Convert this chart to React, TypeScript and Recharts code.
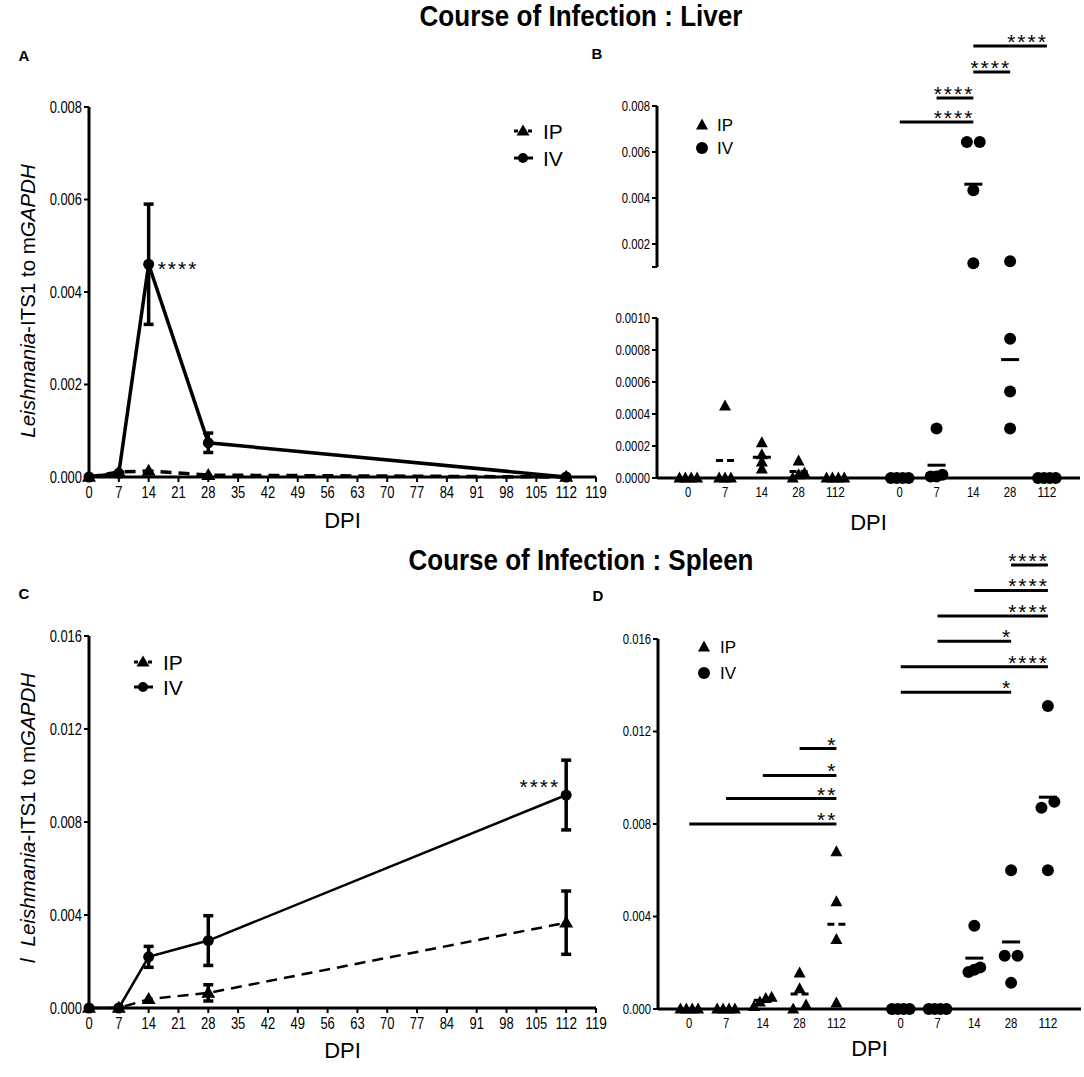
import React from "react";
import {
  ComposedChart,
  Line,
  ErrorBar,
  XAxis,
  YAxis,
  ReferenceDot,
  ReferenceLine,
  ScatterChart,
  Scatter,
} from "recharts";

const SANS = '"Liberation Sans", Arial, Helvetica, sans-serif';

const dpi = [0, 7, 14, 28, 112];
const dpiTicks = [0, 7, 14, 21, 28, 35, 42, 49, 56, 63, 70, 77, 84, 91, 98, 105, 112, 119];

// liver, mean +/- SEM (A)
const liverIP = [0, 0.00011, 0.00013, 0.00004, 0];
const liverIV = [0, 0.00008, 0.0046, 0.00074, 0];
const liverIVErr = [0, 0, 0.0013, 0.00021, 0];

// spleen, mean +/- SEM (C)
const spleenIP = [0, 0, 0.00038, 0.00065, 0.00367];
const spleenIPErr = [0, 0, 0, 0.00035, 0.00136];
const spleenIV = [0, 0, 0.0022, 0.0029, 0.00916];
const spleenIVErr = [0, 0, 0.00045, 0.00107, 0.0015];

// single mice per DPI group (B, D)
const liverPtsIP = [
  [0, 0, 0, 0],
  [0.00045, 0, 0, 0],
  [0.00022, 0.000144, 0.0001, 0.000056],
  [0.000106, 0.00003, 0.00002, 0],
  [0, 0, 0, 0],
];
const liverPtsIV = [
  [0, 0, 0, 0],
  [0.00031, 0.00002, 0.00001, 0.00001],
  [0.00643, 0.00643, 0.00434, 0.00116],
  [0.00125, 0.00087, 0.00054, 0.00031],
  [0, 0, 0, 0],
];
const spleenPtsIP = [
  [0, 0, 0, 0],
  [0, 0, 0, 0],
  [0.0005, 0.00045, 0.0003, 0.0001],
  [0.00155, 0.00087, 0.00017, 0],
  [0.0068, 0.00463, 0.003, 0.00026],
];
const spleenPtsIV = [
  [0, 0, 0, 0],
  [0, 0, 0, 0],
  [0.0036, 0.0018, 0.0017, 0.0016],
  [0.006, 0.0023, 0.0023, 0.00113],
  [0.0131, 0.00896, 0.0087, 0.006],
];

// significance brackets (group index from -> to)
const liverSigFrom = [0, 1, 2, 2];
const liverSigTo = [2, 2, 3, 4];
const liverSigY = [0.0073, 0.00835, 0.00948, 0.01061];
const liverSigText = ["****", "****", "****", "****"];

const spleenIPSigFrom = [0, 1, 2, 3];
const spleenIPSigTo = [4, 4, 4, 4];
const spleenIPSigY = [0.008, 0.0091, 0.0101, 0.01126];
const spleenIPSigText = ["**", "**", "*", "*"];

const spleenIVSigFrom = [0, 0, 1, 1, 2, 3];
const spleenIVSigTo = [3, 4, 3, 4, 4, 4];
const spleenIVSigY = [0.0137, 0.0148, 0.0159, 0.017, 0.0181, 0.0192];
const spleenIVSigText = ["*", "****", "*", "****", "****", "****"];

const ipPos = dpi.map((_, i) => 0.85 + i);
const ivPos = dpi.map((_, i) => 6.6 + i);
const groupTicks = [...ipPos, ...ivPos];
const groupLabels = [...dpi, ...dpi];

const triPoints = (cx: number, cy: number, w: number, h: number) =>
  `${cx},${cy - h * 0.6} ${cx - w / 2},${cy + h * 0.4} ${cx + w / 2},${cy + h * 0.4}`;

// no narrow font installed: squeeze Liberation Sans to narrow widths
const narrowW = (s: string, fs: number) =>
  s.split("").reduce((a, ch) => a + (ch === "." ? 0.22 : 0.45) * fs, 0);

function narrowTick(fs: number, fmt: (v: number) => string) {
  return (p: any) => {
    const s = fmt(p.payload.value);
    if (!s) return <g />;
    return (
      <text
        x={p.x}
        y={p.y}
        dy={p.verticalAnchor === "start" ? "0.71em" : "0.355em"}
        textAnchor={p.textAnchor}
        fontSize={fs}
        fontFamily={SANS}
        fill="#000"
        textLength={narrowW(s, fs)}
        lengthAdjust="spacingAndGlyphs"
      >
        {s}
      </text>
    );
  };
}

// spread overlapping values sideways like a column scatter
function spread(values: number[], tol: number, pos: number) {
  const idx = values.map((_, i) => i).sort((a, b) => values[a] - values[b]);
  const clusters: number[][] = [];
  idx.forEach((i) => {
    const last = clusters[clusters.length - 1];
    if (last && Math.abs(values[i] - values[last[last.length - 1]]) < tol) last.push(i);
    else clusters.push([i]);
  });
  const out: { x: number; y: number }[] = [];
  clusters.forEach((c) => {
    const gap = c.length >= 3 ? 0.16 : 0.35;
    c.forEach((i, j) => out.push({ x: pos + (j - (c.length - 1) / 2) * gap, y: values[i] }));
  });
  return out;
}

const axisStyle = { stroke: "#000", strokeWidth: 3 };
const tickStyle = { stroke: "#000", strokeWidth: 2 };

function yTitle(prefix: boolean, shift: number) {
  return (props: any) => {
    const vb = props.viewBox;
    const cx = vb.x + 27;
    const cy = vb.y + vb.height / 2 + shift;
    return (
      <text
        transform={`translate(${cx},${cy}) rotate(-90)`}
        textAnchor="middle"
        dominantBaseline="central"
        fontSize={20.5}
        fontFamily={SANS}
        fill="#000"
      >
        {prefix && <tspan fontStyle="italic">l</tspan>}
        <tspan fontStyle="italic" dx={prefix ? 12 : 0}>Leishmania</tspan>
        <tspan>-ITS1 to m</tspan>
        <tspan fontStyle="italic">GAPDH</tspan>
      </text>
    );
  };
}

function xTitle(dy: number) {
  return (props: any) => {
    const vb = props.viewBox;
    return (
      <text
        x={vb.x + vb.width / 2}
        y={vb.y + dy}
        textAnchor="middle"
        dominantBaseline="central"
        fontSize={22}
        fontFamily={SANS}
        fill="#000"
      >
        DPI
      </text>
    );
  };
}

function stars(text: string, dx: number, dy: number, anchor: string) {
  return (props: any) => {
    const vb = props.viewBox;
    return (
      <text
        x={vb.x + (anchor === "end" ? vb.width : 0) + dx}
        y={vb.y + dy}
        textAnchor={anchor}
        fontSize={21}
        letterSpacing={2}
        fontFamily={SANS}
        fill="#000"
      >
        {text}
      </text>
    );
  };
}

function CoursePanel(props: any) {
  const { top, height, marginTop, xH, ip, iv, ipErr, ivErr, yMax, yTicks, lineW, prefix, yShift, xDy, star } = props;
  const rows = dpi.map((d, i) => ({ dpi: d, ip: ip[i], iv: iv[i], ipErr: ipErr[i], ivErr: ivErr[i] }));
  return (
    <div style={{ position: "absolute", left: 0, top }}>
      <ComposedChart width={610} height={height} data={rows} margin={{ top: marginTop, right: 14, bottom: 0, left: 0 }}>
        <XAxis
          type="number"
          dataKey="dpi"
          domain={[0, 119]}
          ticks={dpiTicks}
          interval={0}
          height={xH}
          axisLine={axisStyle}
          tickLine={tickStyle}
          tickSize={5}
          tickMargin={5}
          tick={narrowTick(16, (v) => String(v))}
          label={xTitle(xDy)}
        />
        <YAxis
          type="number"
          domain={[0, yMax]}
          ticks={yTicks}
          interval={0}
          width={89}
          axisLine={axisStyle}
          tickLine={tickStyle}
          tickSize={5}
          tickMargin={2}
          tick={narrowTick(16, (v) => v.toFixed(3))}
          label={yTitle(prefix, yShift)}
        />
        <Line
          dataKey="iv"
          stroke="#000"
          strokeWidth={lineW}
          isAnimationActive={false}
          dot={(p: any) => <circle key={`c${p.index}`} cx={p.cx} cy={p.cy} r={5.5} fill="#000" />}
        >
          <ErrorBar dataKey="ivErr" width={5} strokeWidth={3.5} stroke="#000" direction="y" />
        </Line>
        <Line
          dataKey="ip"
          stroke="#000"
          strokeWidth={lineW}
          strokeDasharray="11 7"
          isAnimationActive={false}
          dot={(p: any) => <polygon key={`t${p.index}`} points={triPoints(p.cx, p.cy, 14, 12)} fill="#000" />}
        >
          <ErrorBar dataKey="ipErr" width={5} strokeWidth={3.5} stroke="#000" direction="y" />
        </Line>
        <ReferenceDot
          x={star.x}
          y={star.y}
          r={0}
          fill="none"
          stroke="none"
          ifOverflow="visible"
          label={stars("****", star.dx, star.dy, star.anchor)}
        />
      </ComposedChart>
    </div>
  );
}

function DotPanel(props: any) {
  const { left, top, width, height, marginTop, marginBottom, xH, showX, yDomain, yTicks, yFmt, keep, tol, ptsIP, ptsIV, meanIP, meanIV, sig, xDy } = props;
  const ipData = ptsIP.flatMap((g: number[], i: number) => spread(g.filter(keep), tol, ipPos[i]));
  const ivData = ptsIV.flatMap((g: number[], i: number) => spread(g.filter(keep), tol, ivPos[i]));
  const meanLines: any[] = [];
  meanIP.forEach((m: number, i: number) => {
    if (m > 0 && keep(m))
      meanLines.push(
        <ReferenceLine
          key={`mip${i}`}
          segment={[{ x: ipPos[i] - 0.245, y: m }, { x: ipPos[i] + 0.245, y: m }]}
          stroke="#000"
          strokeWidth={3}
          strokeDasharray="7 4"
          ifOverflow="visible"
        />
      );
  });
  meanIV.forEach((m: number, i: number) => {
    if (m > 0 && keep(m))
      meanLines.push(
        <ReferenceLine
          key={`miv${i}`}
          segment={[{ x: ivPos[i] - 0.245, y: m }, { x: ivPos[i] + 0.245, y: m }]}
          stroke="#000"
          strokeWidth={3}
          ifOverflow="visible"
        />
      );
  });
  const sigLines = sig.map((s: any, i: number) => (
    <ReferenceLine
      key={`sig${i}`}
      segment={[{ x: s.pos[s.from], y: s.y }, { x: s.pos[s.to], y: s.y }]}
      stroke="#000"
      strokeWidth={3}
      ifOverflow="visible"
      label={stars(s.text, 1, 3, "end")}
    />
  ));
  return (
    <div style={{ position: "absolute", left, top }}>
      <ScatterChart width={width} height={height} margin={{ top: marginTop, right: 0, bottom: marginBottom, left: 0 }}>
        <XAxis
          type="number"
          dataKey="x"
          domain={[0, 11.5]}
          ticks={groupTicks}
          interval={0}
          hide={!showX}
          height={xH}
          axisLine={axisStyle}
          tickLine={false}
          tickSize={0}
          tickMargin={9}
          tick={narrowTick(14, (v) => String(groupLabels[groupTicks.findIndex((t) => Math.abs(t - v) < 1e-6)]))}
          label={showX ? xTitle(xDy) : undefined}
        />
        <YAxis
          type="number"
          dataKey="y"
          domain={yDomain}
          ticks={yTicks}
          interval={0}
          width={width - 423}
          axisLine={axisStyle}
          tickLine={tickStyle}
          tickSize={5}
          tickMargin={2}
          tick={narrowTick(14, yFmt)}
        />
        {meanLines}
        {sigLines}
        <Scatter
          data={ivData}
          isAnimationActive={false}
          shape={(p: any) => <circle cx={p.cx} cy={p.cy} r={6} fill="#000" />}
        />
        <Scatter
          data={ipData}
          isAnimationActive={false}
          shape={(p: any) => <polygon points={triPoints(p.cx, p.cy, 12, 11)} fill="#000" />}
        />
      </ScatterChart>
    </div>
  );
}

function LineLegend({ x, y1, y2, tx }: any) {
  return (
    <g>
      <line x1={x - 9} x2={x + 10} y1={y1} y2={y1} stroke="#000" strokeWidth={3} strokeDasharray="4 3" />
      <polygon points={triPoints(x, y1, 13, 11)} fill="#000" />
      <line x1={x - 9} x2={x + 10} y1={y2} y2={y2} stroke="#000" strokeWidth={3} />
      <circle cx={x} cy={y2} r={5} fill="#000" />
      <text x={tx} y={y1} dominantBaseline="central" fontSize={21} fontFamily={SANS}>IP</text>
      <text x={tx} y={y2} dominantBaseline="central" fontSize={21} fontFamily={SANS}>IV</text>
    </g>
  );
}

function DotLegend({ x, y1, y2, tx }: any) {
  return (
    <g>
      <polygon points={triPoints(x, y1, 12, 11)} fill="#000" />
      <circle cx={x} cy={y2} r={6} fill="#000" />
      <text x={tx} y={y1} dominantBaseline="central" fontSize={17} fontFamily={SANS}>IP</text>
      <text x={tx} y={y2} dominantBaseline="central" fontSize={17} fontFamily={SANS}>IV</text>
    </g>
  );
}

const buildSig = (from: number[], to: number[], ys: number[], texts: string[], pos: number[]) =>
  from.map((f, i) => ({ from: f, to: to[i], y: ys[i], text: texts[i], pos }));

export default function App() {
  const liverSig = buildSig(liverSigFrom, liverSigTo, liverSigY, liverSigText, ivPos);
  const spleenSig = [
    ...buildSig(spleenIPSigFrom, spleenIPSigTo, spleenIPSigY, spleenIPSigText, ipPos),
    ...buildSig(spleenIVSigFrom, spleenIVSigTo, spleenIVSigY, spleenIVSigText, ivPos),
  ];
  return (
    <div style={{ position: "absolute", left: 0, top: 0, width: 1084, height: 1077, background: "#fff", overflow: "hidden" }}>
      <CoursePanel
        top={30}
        height={510}
        marginTop={77}
        xH={63}
        ip={liverIP}
        iv={liverIV}
        ipErr={[0, 0, 0, 0, 0]}
        ivErr={liverIVErr}
        yMax={0.008}
        yTicks={[0, 0.002, 0.004, 0.006, 0.008]}
        lineW={3.5}
        prefix={false}
        yShift={9}
        xDy={43}
        star={{ x: 14, y: 0.0046, dx: 9, dy: 12, anchor: "start" }}
      />
      <CoursePanel
        top={560}
        height={520}
        marginTop={76}
        xH={72}
        ip={spleenIP}
        iv={spleenIV}
        ipErr={spleenIPErr}
        ivErr={spleenIVErr}
        yMax={0.016}
        yTicks={[0, 0.004, 0.008, 0.012, 0.016]}
        lineW={2.5}
        prefix={true}
        yShift={-4}
        xDy={42}
        star={{ x: 112, y: 0.00916, dx: -6, dy: -1, anchor: "end" }}
      />
      <DotPanel
        left={560}
        top={0}
        width={520}
        height={290}
        marginTop={106}
        marginBottom={23}
        xH={0}
        showX={false}
        yDomain={[0.001, 0.008]}
        yTicks={[0.001, 0.002, 0.004, 0.006, 0.008]}
        yFmt={(v: number) => (v === 0.001 ? "" : v.toFixed(3))}
        keep={(v: number) => v >= 0.001}
        tol={0.00025}
        ptsIP={liverPtsIP}
        ptsIV={liverPtsIV}
        meanIP={liverIP}
        meanIV={liverIV}
        sig={liverSig}
        xDy={0}
      />
      <DotPanel
        left={560}
        top={290}
        width={520}
        height={250}
        marginTop={28}
        marginBottom={0}
        xH={62}
        showX={true}
        yDomain={[0, 0.001]}
        yTicks={[0, 0.0002, 0.0004, 0.0006, 0.0008, 0.001]}
        yFmt={(v: number) => v.toFixed(4)}
        keep={(v: number) => v < 0.001}
        tol={0.000035}
        ptsIP={liverPtsIP}
        ptsIV={liverPtsIV}
        meanIP={liverIP}
        meanIV={liverIV}
        sig={[]}
        xDy={44}
      />
      <DotPanel
        left={560}
        top={540}
        width={521}
        height={540}
        marginTop={99}
        marginBottom={0}
        xH={71}
        showX={true}
        yDomain={[0, 0.016]}
        yTicks={[0, 0.004, 0.008, 0.012, 0.016]}
        yFmt={(v: number) => v.toFixed(3)}
        keep={() => true}
        tol={0.00056}
        ptsIP={spleenPtsIP}
        ptsIV={spleenPtsIV}
        meanIP={spleenIP}
        meanIV={spleenIV}
        sig={spleenSig}
        xDy={39}
      />
      <svg width={1084} height={1077} style={{ position: "absolute", left: 0, top: 0, pointerEvents: "none" }}>
        <text x={581} y={16} textAnchor="middle" dominantBaseline="central" fontSize={29} fontWeight="bold" fontFamily={SANS} textLength={323} lengthAdjust="spacingAndGlyphs">
          Course of Infection : Liver
        </text>
        <text x={581} y={560} textAnchor="middle" dominantBaseline="central" fontSize={29} fontWeight="bold" fontFamily={SANS} textLength={345} lengthAdjust="spacingAndGlyphs">
          Course of Infection : Spleen
        </text>
        <text x={24} y={55} textAnchor="middle" dominantBaseline="central" fontSize={15} fontWeight="bold" fontFamily={SANS}>A</text>
        <text x={597} y={53} textAnchor="middle" dominantBaseline="central" fontSize={15} fontWeight="bold" fontFamily={SANS}>B</text>
        <text x={24} y={593} textAnchor="middle" dominantBaseline="central" fontSize={15} fontWeight="bold" fontFamily={SANS}>C</text>
        <text x={598} y={595} textAnchor="middle" dominantBaseline="central" fontSize={15} fontWeight="bold" fontFamily={SANS}>D</text>
        <LineLegend x={523} y1={131} y2={158} tx={543} />
        <LineLegend x={143} y1={662} y2={687} tx={163} />
        <DotLegend x={702} y1={125} y2={148} tx={717} />
        <DotLegend x={704} y1={647} y2={673} tx={720} />
      </svg>
    </div>
  );
}
